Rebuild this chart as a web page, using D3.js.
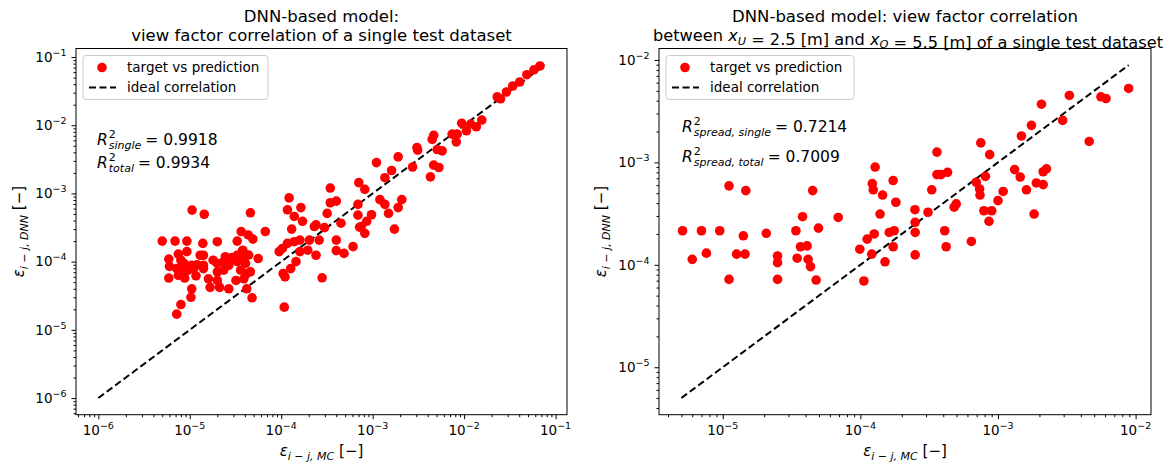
<!DOCTYPE html>
<html>
<head>
<meta charset="utf-8">
<script src="https://cdn.jsdelivr.net/npm/d3@7/dist/d3.min.js"></script>
<style>
body { margin: 0; background: #fff; }
text { font-family: "DejaVu Sans", sans-serif; fill: #000; }
</style>
</head>
<body>
<script>
var width = 1170, height = 467;

// ---- left panel: all view factors of one test dataset
var singleMC = [5.0e-6, 6.9e-6, 9.3e-6, 1.39e-5, 2.0e-5, 3.3e-5, 3.65e-5, 4.35e-5, 4.9e-5, 6.7e-5,
  7.5e-6, 9.3e-6, 1.3e-5, 1.41e-5, 5.9e-6, 8.0e-6, 8.65e-6, 1.05e-5, 7.2e-6, 8.0e-6,
  8.8e-6, 9.6e-6, 1.1e-5, 1.41e-5, 1.41e-5, 5.9e-6, 7.5e-6, 8.8e-6, 1.17e-5, 1.05e-5,
  1.03e-5, 8.0e-6, 7.2e-6, 1.99e-5, 2.35e-5, 2.45e-5, 2.35e-5, 2.67e-5, 2.0e-5, 1.6e-5,
  1.67e-5, 2.12e-5, 2.67e-5, 2.0e-5, 3.3e-5, 3.75e-5, 3.75e-5, 3.3e-5, 4.07e-5, 4.2e-5,
  3.6e-5, 3.2e-5, 3.9e-5, 4.6e-5, 4.2e-5, 4.8e-5, 5.6e-5, 3.8e-5, 9.5e-5, 1.03e-4,
  1.17e-4, 1.3e-4, 1.39e-4, 1.27e-4, 1.05e-4, 1.1e-4, 1.45e-4, 1.6e-4, 1.95e-4, 2.4e-4,
  2.8e-4, 1.6e-4, 2.03e-4, 2.3e-4, 2.97e-4, 4.0e-4, 4.0e-4, 4.86e-4, 6.1e-4, 4.5e-4,
  7.2e-4, 1.08e-4, 1.22e-4, 1.17e-4, 1.39e-4, 1.64e-4, 1.71e-4, 2.4e-4, 2.6e-4, 3.18e-4,
  3.44e-4, 3.44e-4, 4.0e-4, 7.05e-4, 8.2e-4, 6.9e-4, 6.9e-4, 7.5e-4, 8.6e-4, 9.7e-4,
  8.2e-4, 1.1e-3, 1.2e-3, 1.36e-3, 1.49e-3, 1.36e-3, 1.61e-3, 1.9e-3, 1.73e-3, 1.9e-3,
  2.08e-3, 2.73e-3, 3.05e-3, 3.1e-3, 4.28e-3, 4.65e-3, 5.3e-3, 4.47e-3, 4.65e-3, 5.07e-3,
  5.75e-3, 7.4e-3, 8.2e-3, 8.4e-3, 9.4e-3, 1.06e-2, 1.18e-2, 1.36e-2, 1.56e-2, 2.5e-2,
  2.3e-2, 2.9e-2, 3.4e-2, 4.06e-2, 4.85e-2, 5.8e-2, 6.75e-2, 1.06e-5, 1.44e-5, 4.6e-5,
  1.8e-5, 2.9e-5, 4.4e-5, 6.0e-6, 1.2e-5];
var singleDNN = [2.0e-4, 2.0e-4, 2.0e-4, 1.85e-4, 1.96e-4, 2.0e-4, 2.76e-4, 2.46e-4, 2.14e-4, 2.76e-4,
  1.29e-4, 1.4e-4, 1.24e-4, 1.24e-4, 1.09e-4, 1.05e-4, 9.4e-5, 8.85e-5, 7.9e-5, 7.5e-5,
  7.1e-5, 7.5e-5, 7.9e-5, 8.85e-5, 7.9e-5, 5.75e-5, 6.3e-5, 5.75e-5, 6.2e-5, 4.0e-5,
  3.0e-5, 2.35e-5, 1.7e-5, 9.4e-5, 1.0e-4, 1.18e-4, 7.5e-5, 8.85e-5, 7.1e-5, 5.6e-5,
  4.2e-5, 4.2e-5, 4.0e-5, 5.3e-5, 1.0e-4, 1.11e-4, 1.4e-4, 1.24e-4, 9.4e-5, 6.7e-5,
  7.5e-5, 5.3e-5, 5.6e-5, 7.1e-5, 4.0e-5, 2.95e-5, 1.11e-4, 1.47e-4, 1.4e-4, 1.56e-4,
  1.85e-4, 3.0e-4, 1.96e-4, 7.9e-5, 6.7e-5, 6.0e-5, 1.0e-4, 1.4e-4, 1.47e-4, 1.24e-4,
  5.8e-5, 2.07e-4, 2.07e-4, 3.27e-4, 3.15e-4, 2.07e-4, 1.45e-4, 1.32e-4, 1.66e-4, 3.66e-4,
  3.2e-4, 2.15e-5, 8.6e-4, 5.75e-4, 4.6e-4, 6.2e-4, 3.9e-4, 3.47e-4, 2.07e-4, 5.1e-4,
  1.2e-3, 7.3e-4, 7.7e-4, 1.44e-3, 1.15e-3, 6.9e-4, 4.8e-4, 3.27e-4, 3.9e-4, 4.87e-4,
  2.6e-4, 2.83e-3, 8.1e-4, 6.9e-4, 5.1e-4, 1.7e-3, 2.17e-3, 3.43e-3, 3.0e-4, 6.2e-4,
  8.1e-4, 2.44e-3, 4.7e-3, 4.3e-3, 1.75e-3, 2.6e-3, 2.4e-3, 6.2e-3, 7.1e-3, 4.4e-3,
  4.2e-3, 7.4e-3, 5.7e-3, 7.4e-3, 1.07e-2, 8.3e-3, 1.04e-2, 9.5e-3, 1.19e-2, 2.44e-2,
  2.6e-2, 3.07e-2, 3.76e-2, 4.3e-2, 5.5e-2, 6.5e-2, 7.4e-2, 5.7e-4, 4.95e-4, 5.2e-4,
  1.05e-4, 1.15e-4, 1.25e-4, 8.5e-5, 9.0e-5];
var singleIdeal = [1e-6, 0.076];
var singleTickExp = [-6, -5, -4, -3, -2, -1];
var singleTitle = ["DNN-based model:", "view factor correlation of a single test dataset"];
var singleR2 = [["single", "0.9918"], ["total", "0.9934"]];

// ---- right panel: view factors between x_U = 2.5 m and x_O = 5.5 m
var spreadMC = [5.1e-6, 7.0e-6, 9.5e-6, 6.0e-6, 7.6e-6, 1.11e-5, 1.47e-5, 1.41e-5, 1.26e-5, 1.45e-5,
  1.11e-5, 2.07e-5, 2.5e-5, 2.5e-5, 2.5e-5, 3.4e-5, 3.8e-5, 4.5e-5, 3.47e-5, 3.67e-5,
  4.1e-5, 4.17e-5, 4.34e-5, 4.77e-5, 4.96e-5, 6.9e-5, 9.9e-5, 1.06e-4, 1.12e-4, 1.21e-4,
  1.26e-4, 1.28e-4, 1.22e-4, 1.24e-4, 1.45e-4, 1.73e-4, 1.81e-4, 1.39e-4, 1.62e-4, 1.76e-4,
  1.73e-4, 1.51e-4, 2.49e-4, 2.5e-4, 2.5e-4, 2.5e-4, 8.9e-3, 5.6e-3, 6.1e-3, 3.3e-3,
  2.07e-3, 2.95e-3, 4.6e-3, 1.75e-3, 1.48e-3, 7.5e-4, 8.7e-4, 3.6e-4, 3.6e-4, 3.85e-4,
  4.3e-4, 3.3e-4, 3.1e-4, 4.1e-4, 4.2e-4, 4.8e-4, 4.97e-4, 6.4e-4, 6.95e-4, 7.35e-4,
  7.4e-4, 8.1e-4, 7.9e-4, 9.0e-4, 8.6e-4, 1.0e-3, 1.09e-3, 1.32e-3, 1.45e-3, 1.61e-3,
  1.83e-3, 1.9e-3, 2.13e-3, 2.13e-3, 2.25e-3];
var spreadDNN = [2.15e-4, 2.15e-4, 2.15e-4, 1.13e-4, 1.3e-4, 5.9e-4, 5.3e-4, 1.92e-4, 1.27e-4, 1.27e-4,
  7.2e-5, 2.03e-4, 1.22e-4, 1.05e-4, 7.2e-5, 2.15e-4, 2.95e-4, 5.3e-4, 1.16e-4, 1.5e-4,
  1.53e-4, 1.13e-4, 9.6e-5, 7.1e-5, 2.28e-4, 2.9e-4, 1.42e-4, 6.95e-5, 1.78e-4, 1.27e-4,
  2.0e-4, 9.0e-4, 6.2e-4, 5.4e-4, 4.8e-4, 6.65e-4, 4.08e-4, 3.13e-4, 2.07e-4, 2.15e-4,
  1.5e-4, 1.07e-4, 3.45e-4, 2.6e-4, 2.07e-4, 1.25e-4, 5.27e-3, 4.37e-3, 4.2e-3, 4.5e-3,
  3.7e-3, 2.57e-3, 1.6e-3, 2.3e-3, 1.81e-3, 1.55e-3, 1.19e-3, 1.26e-3, 7.6e-4, 7.6e-4,
  8.0e-4, 5.4e-4, 3.26e-4, 2.15e-4, 1.5e-4, 3.65e-4, 3.93e-4, 1.69e-4, 6.4e-4, 5.5e-4,
  4.8e-4, 7.3e-4, 3.37e-4, 3.37e-4, 2.66e-4, 4.23e-4, 5.2e-4, 8.5e-4, 7.2e-4, 5.4e-4,
  3.13e-4, 6.3e-4, 6.07e-4, 8.1e-4, 8.65e-4];
var spreadIdeal = [5e-6, 8.9e-3];
var spreadTickExp = [-5, -4, -3, -2];
var spreadTitle = ["DNN-based model: view factor correlation",
  "between x_U = 2.5 [m] and x_O = 5.5 [m] of a single test dataset"];
var spreadR2 = [["spread, single", "0.7214"], ["spread, total", "0.7009"]];

var legendLabels = ["target vs prediction", "ideal correlation"];

var svg = d3.select("body").append("svg")
    .attr("width", width)
    .attr("height", height);

// writes "x_U" style pieces as italic letter + subscript tspans
function mathLine(t, str, size) {
  var parts = str.split(/(x_[A-Z])/);
  parts.forEach(function(s) {
    if (/^x_[A-Z]$/.test(s)) {
      t.append("tspan").style("font-style", "italic").text("x");
      t.append("tspan").style("font-style", "italic").style("font-size", (size * 0.7) + "px")
        .attr("dy", 3.5).text(s[2]);
      t.append("tspan").attr("dy", -3.5).text("");
    } else {
      t.append("tspan").text(s);
    }
  });
}

function epsLabel(t, sub) {
  t.append("tspan").style("font-style", "italic").text("ε");
  t.append("tspan").style("font-style", "italic").style("font-size", "11px").attr("dy", 4).text(sub);
  t.append("tspan").attr("dy", -4).text(" [−]");
}

// width of a string in a given style (temporary element)
function textWidth(str, size, italic) {
  var t = svg.append("text").style("font-size", size + "px")
    .style("font-style", italic ? "italic" : "normal").text(str);
  var w = t.node().getComputedTextLength();
  t.remove();
  return w;
}

function drawPanel(p) {
  var g = svg.append("g");
  var lo = Math.log10(p.ideal[0]), hi = Math.log10(p.ideal[1]);
  var m = 0.05 * (hi - lo);
  var dom = [Math.pow(10, lo - m), Math.pow(10, hi + m)];

  var x = d3.scaleLog().domain(dom).range([p.x0, p.x1]);
  var y = d3.scaleLog().domain(dom).range([p.y1, p.y0]);

  var majors = p.exps.map(function(e) { return Math.pow(10, e); });
  var minors = [];
  for (var e = Math.floor(lo - m); e <= Math.ceil(hi + m); e++) {
    for (var k = 2; k <= 9; k++) {
      var v = k * Math.pow(10, e);
      if (v >= dom[0] && v <= dom[1]) minors.push(v);
    }
  }

  // ticks
  function tickAxis(axis, vals, size, tr) {
    var a = g.append("g").attr("transform", tr)
      .call(axis.tickValues(vals).tickSize(size).tickFormat(""));
    a.select(".domain").remove();
    a.selectAll("line").attr("stroke", "#000").attr("stroke-width", 1);
  }
  tickAxis(d3.axisBottom(x), minors, 2.5, "translate(0," + p.y1 + ")");
  tickAxis(d3.axisBottom(x), majors, 4.5, "translate(0," + p.y1 + ")");
  tickAxis(d3.axisLeft(y), minors, 2.5, "translate(" + p.x0 + ",0)");
  tickAxis(d3.axisLeft(y), majors, 4.5, "translate(" + p.x0 + ",0)");

  // tick labels 10^n
  p.exps.forEach(function(ex, i) {
    var tx = g.append("text").attr("x", x(majors[i])).attr("y", p.y1 + 20.5)
      .attr("text-anchor", "middle").style("font-size", "13.5px");
    tx.append("tspan").text("10");
    tx.append("tspan").attr("dy", -6).style("font-size", "9.5px").text("−" + Math.abs(ex));
    var ty = g.append("text").attr("x", p.x0 - 9.5).attr("y", y(majors[i]) + 4.7)
      .attr("text-anchor", "end").style("font-size", "13.5px");
    ty.append("tspan").text("10");
    ty.append("tspan").attr("dy", -6).style("font-size", "9.5px").text("−" + Math.abs(ex));
  });

  // ideal line
  var line = d3.line().x(function(d) { return x(d); }).y(function(d) { return y(d); });
  g.append("path").attr("d", line(p.ideal))
    .attr("fill", "none").attr("stroke", "#000").attr("stroke-width", 2)
    .attr("stroke-dasharray", "7,3.5");

  // points
  g.selectAll("circle.pt").data(p.mc).enter().append("circle")
    .attr("class", "pt")
    .attr("cx", function(d) { return x(d); })
    .attr("cy", function(d, i) { return y(p.dnn[i]); })
    .attr("r", 4.8)
    .attr("fill", "#ff0000");

  // frame
  g.append("rect").attr("x", p.x0).attr("y", p.y0)
    .attr("width", p.x1 - p.x0).attr("height", p.y1 - p.y0)
    .attr("fill", "none").attr("stroke", "#000").attr("stroke-width", 1);

  // title
  var cx = (p.x0 + p.x1) / 2;
  g.append("text").attr("x", cx).attr("y", 22).attr("text-anchor", "middle")
    .style("font-size", "16.5px").text(p.title[0]);
  var t2 = g.append("text").attr("x", cx + p.t2dx).attr("y", 41).attr("text-anchor", "middle")
    .style("font-size", p.t2size + "px");
  mathLine(t2, p.title[1], p.t2size);

  // axis labels
  var xl = g.append("text").attr("x", cx).attr("y", 456).attr("text-anchor", "middle")
    .style("font-size", "15px");
  epsLabel(xl, "i − j, MC");
  var yl = g.append("text")
    .attr("transform", "translate(" + p.ylx + "," + ((p.y0 + p.y1) / 2) + ") rotate(-90)")
    .attr("text-anchor", "middle").style("font-size", "15px");
  epsLabel(yl, "i − j, DNN");

  // legend
  var lx = p.x0 + 7, ly = p.y0 + 7;
  g.append("rect").attr("x", lx).attr("y", ly).attr("width", p.legW).attr("height", 44)
    .attr("rx", 3).attr("fill", "#fff").attr("fill-opacity", 0.8)
    .attr("stroke", "#cccccc").attr("stroke-width", 1);
  g.append("circle").attr("cx", lx + 19).attr("cy", ly + 12).attr("r", 4.8).attr("fill", "#ff0000");
  g.append("line").attr("x1", lx + 6).attr("x2", lx + 33).attr("y1", ly + 32).attr("y2", ly + 32)
    .attr("stroke", "#000").attr("stroke-width", 2).attr("stroke-dasharray", "7,3.5");
  legendLabels.forEach(function(s, i) {
    g.append("text").attr("x", lx + 44).attr("y", ly + 16.5 + i * 20)
      .style("font-size", "13.5px").text(s);
  });

  // R^2 annotations: one text element, script parts stacked after the R
  var big = 15.5, small = 11;
  p.r2.forEach(function(r, i) {
    var bx = p.r2x, by = p.r2y[i];
    var rw = textWidth("R", big, true);
    var sw = Math.max(textWidth("2", small, false), textWidth(r[0], small, true));
    var t = g.append("text").attr("x", bx).attr("y", by).style("font-size", big + "px");
    t.append("tspan").style("font-style", "italic").text("R");
    t.append("tspan").attr("x", bx + rw + 1).attr("y", by - 7.5)
      .style("font-size", small + "px").text("2");
    t.append("tspan").attr("x", bx + rw + 1).attr("y", by + 4)
      .style("font-size", small + "px").style("font-style", "italic").text(r[0]);
    t.append("tspan").attr("x", bx + rw + sw + 5).attr("y", by).text("= " + r[1]);
  });
}

drawPanel({
  mc: singleMC, dnn: singleDNN, ideal: singleIdeal, exps: singleTickExp,
  title: singleTitle, r2: singleR2, t2size: 16.5, t2dx: 0,
  x0: 76, x1: 567, y0: 48.5, y1: 414.7, ylx: 24, legW: 185, r2x: 97, r2y: [145, 168]
});
drawPanel({
  mc: spreadMC, dnn: spreadDNN, ideal: spreadIdeal, exps: spreadTickExp,
  title: spreadTitle, r2: spreadR2, t2size: 16.2, t2dx: 3,
  x0: 659, x1: 1151, y0: 48.5, y1: 414.7, ylx: 606, legW: 188, r2x: 682, r2y: [132, 162]
});
</script>
</body>
</html>
